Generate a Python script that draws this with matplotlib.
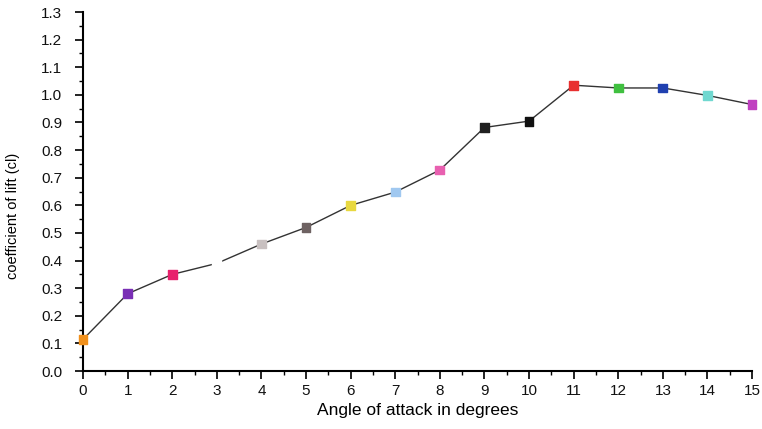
import matplotlib
matplotlib.use("Agg")
import matplotlib.pyplot as plt
from matplotlib.ticker import MultipleLocator, AutoMinorLocator

plt.rcParams['font.family'] = ['Liberation Sans', 'DejaVu Sans']

angles = [0, 1, 2, 3, 4, 5, 6, 7, 8, 9, 10, 11, 12, 13, 14, 15]
cl = [0.115, 0.28, 0.35, 0.39, 0.46, 0.52, 0.60, 0.648, 0.728, 0.882, 0.905,
      1.035, 1.025, 1.025, 0.998, 0.965]
colors = ['#f0901c', '#7a2fb5', '#e8206c', '#ffffff', '#c8c0c0', '#6e6262',
          '#e8d840', '#a0c8f0', '#e860b0', '#202020', '#101010', '#e83030',
          '#40c040', '#2040b0', '#70d8d0', '#c040c0']

fig = plt.figure(figsize=(7.62, 4.29), dpi=100)
ax = fig.add_axes([0.109, 0.135, 0.878, 0.837])
ax.plot(angles, cl, color='#333333', lw=1.0, zorder=2)
ax.scatter(angles, cl, c=colors, marker='s', s=40, zorder=3, clip_on=False)

ax.set_xlim(0, 15)
ax.set_ylim(0, 1.3)
ax.xaxis.set_major_locator(MultipleLocator(1))
ax.xaxis.set_minor_locator(AutoMinorLocator(2))
ax.yaxis.set_major_locator(MultipleLocator(0.1))
ax.yaxis.set_minor_locator(AutoMinorLocator(2))
ax.set_yticklabels([f"{v:.1f}" for v in ax.get_yticks()])
for s in ['top', 'right']:
    ax.spines[s].set_visible(False)
for s in ['left', 'bottom']:
    ax.spines[s].set_linewidth(1.5)
ax.tick_params(which='major', direction='out', length=6, width=1.3, labelsize=11, colors='#111111')
ax.tick_params(which='minor', direction='out', length=3, width=1.0)
ax.tick_params(axis='y', which='major', pad=9)
ax.tick_params(axis='x', which='major', pad=3)
ax.set_xlabel('Angle of attack in degrees', fontsize=12.5)
ax.set_ylabel('coefficient of lift (cl)', fontsize=10.5)
ax.yaxis.set_label_coords(-0.094, 0.432)
fig.savefig('out.png', dpi=100)
